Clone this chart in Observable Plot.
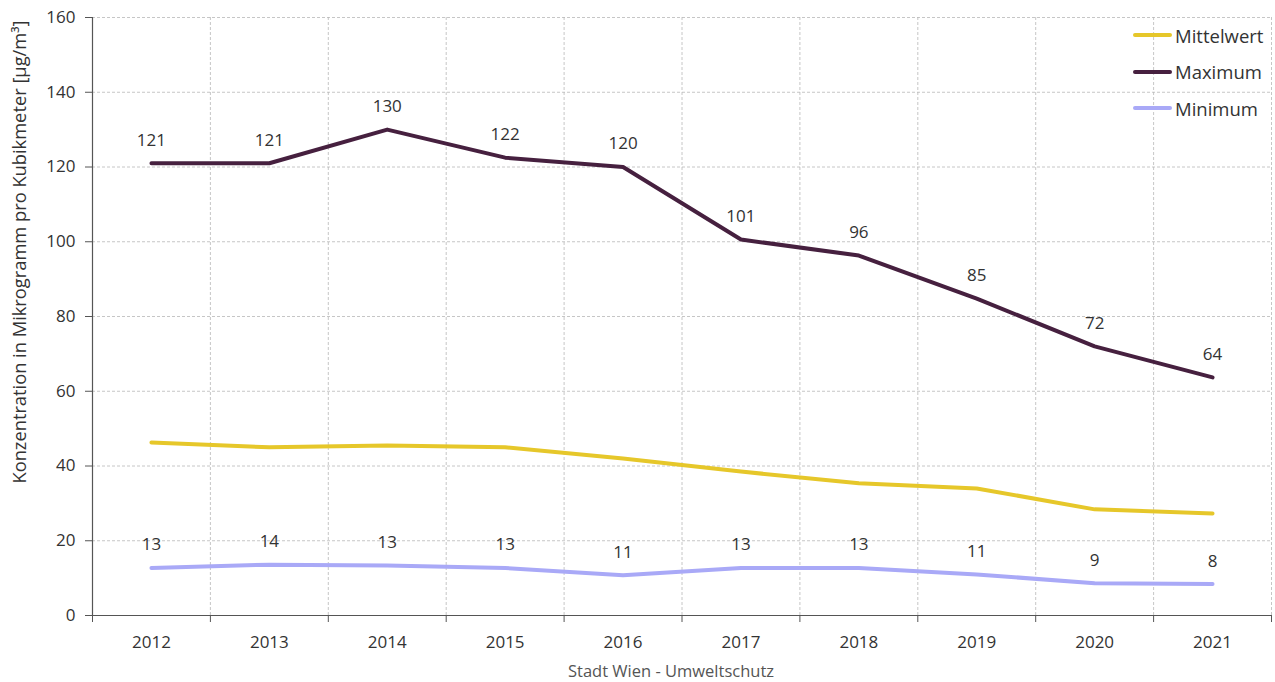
<!DOCTYPE html>
<html><head><meta charset="utf-8">
<script src="https://cdn.jsdelivr.net/npm/d3@7"></script>
<script src="https://cdn.jsdelivr.net/npm/@observablehq/plot@0.6"></script>
<style>
body{margin:0;background:#fff;font-family:"Open Sans",sans-serif;}
#wrap{position:relative;width:1275px;height:682px;}
#ylab{position:absolute;left:18px;top:252px;transform:translate(-50%,-50%) rotate(-90deg);white-space:nowrap;font-size:18.3px;color:#333;}
#legend{position:absolute;left:1133px;top:17px;font-size:18.5px;color:#333;}
.row{display:flex;align-items:center;height:36.5px;}
.sw{width:39px;height:4px;border-radius:2px;margin-right:3px;}
</style></head>
<body><div id="wrap"><div id="chart"></div>
<div id="ylab">Konzentration in Mikrogramm pro Kubikmeter [µg/m³]</div>
<div id="legend"></div></div>
<script>
const years = [2012,2013,2014,2015,2016,2017,2018,2019,2020,2021];
const mittelwert = [46.3,45.0,45.5,45.0,42.0,38.5,35.4,34.0,28.4,27.3];
const maximum = [121,121,130,122.5,120,100.6,96.3,84.8,72,63.7];
const minimum = [12.7,13.6,13.4,12.7,10.8,12.7,12.7,11.0,8.6,8.4];
const maxLabels = ["121","121","130","122","120","101","96","85","72","64"];
const minLabels = ["13","14","13","13","11","13","13","11","9","8"];
const yTicks = [0,20,40,60,80,100,120,140,160];
const seriesNames = ["Mittelwert","Maximum","Minimum"];
const colors = ["#e6c72a","#46203f","#a9a9f7"];
const caption = "Stadt Wien - Umweltschutz";

const data = [];
const series = [mittelwert, maximum, minimum];
seriesNames.forEach((s,i)=>years.forEach((y,j)=>data.push({year:y, value:series[i][j], series:s, label: i===1?maxLabels[j]:i===2?minLabels[j]:null})));
const bounds = years.map(y=>y-0.5).concat([years[years.length-1]+0.5]);
const grid = {stroke:"#b8b8b8", strokeOpacity:1, strokeDasharray:"3,2", strokeWidth:0.8};

const chart = Plot.plot({
  width:1275, height:682,
  marginLeft:92, marginRight:4, marginTop:17, marginBottom:67,
  style:{fontFamily:"Open Sans, sans-serif", fontSize:"17px", color:"#333"},
  x:{domain:[bounds[0], bounds[bounds.length-1]]},
  y:{domain:[0,160]},
  color:{domain:seriesNames, range:colors},
  marks:[
    Plot.gridY(yTicks.slice(1), grid),
    Plot.gridX(bounds.slice(1), grid),
    Plot.axisY({ticks:yTicks, tickSize:7, tickPadding:10, label:null, stroke:"#555", fill:"#333"}),
    Plot.axisX({ticks:bounds, tickSize:7, tickFormat:()=>"", label:null, stroke:"#555"}),
    Plot.axisX({ticks:years, tickSize:0, tickPadding:20, tickFormat:d=>String(d), label:null, fill:"#333"}),
    Plot.ruleX([bounds[0]], {stroke:"#555", strokeWidth:1.2}),
    Plot.ruleY([0], {stroke:"#555", strokeWidth:1.2}),
    Plot.line(data, {x:"year", y:"value", z:"series", stroke:"series", strokeWidth:4, strokeLinejoin:"round"}),
    Plot.text(data.filter(d=>d.label), {x:"year", y:"value", text:"label", dy:-23, fill:"#333", fontSize:17}),
    Plot.text([caption], {frameAnchor:"bottom", dy:61, dx:-11, fill:"#555", fontSize:16.5})
  ]
});
document.getElementById("chart").appendChild(chart);
const leg = document.getElementById("legend");
seriesNames.forEach((s,i)=>{
  const r=document.createElement("div"); r.className="row";
  const sw=document.createElement("div"); sw.className="sw"; sw.style.background=colors[i];
  const t=document.createElement("span"); t.textContent=s;
  r.appendChild(sw); r.appendChild(t); leg.appendChild(r);
});
</script></body></html>
